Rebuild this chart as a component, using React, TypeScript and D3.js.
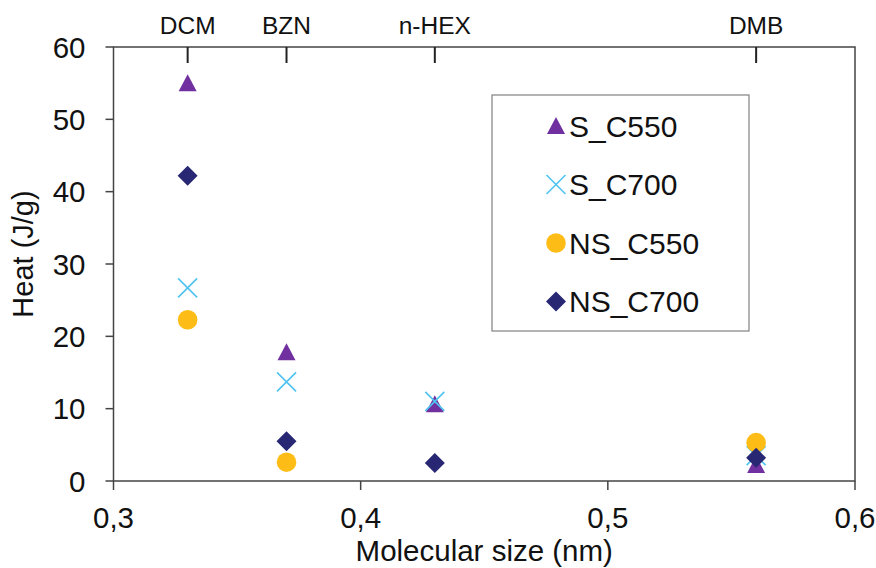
import React from 'react';
import * as d3 from 'd3';

// solvents on the top axis
const solvents = ['DCM', 'BZN', 'n-HEX', 'DMB'];
const molSize = [0.33, 0.37, 0.43, 0.56];

const seriesNames = ['S_C550', 'S_C700', 'NS_C550', 'NS_C700'];
const sC550 = [55.0, 17.8, 10.6, 2.2];
const sC700 = [26.7, 13.7, 11.0, 3.5];
const nsC550 = [22.3, 2.6, null, 5.3];
const nsC700 = [42.2, 5.5, 2.5, 3.2];

const xTicks = [0.3, 0.4, 0.5, 0.6];
const yTicks = [0, 10, 20, 30, 40, 50, 60];

const colors = ['#7030a0', '#4fc3f0', '#fdbd16', '#272774'];

const W = 876;
const H = 568;
const margin = { top: 47, right: 21, bottom: 87, left: 113.5 };
const font = 'Liberation Sans, Arial, sans-serif';

const Marker = ({ kind, x, y }) => {
  if (kind === 0) {
    return <path d={`M${x},${y - 9}L${x + 9},${y + 8}L${x - 9},${y + 8}Z`} fill={colors[0]} />;
  }
  if (kind === 1) {
    const r = 9.5;
    return (
      <path d={`M${x - r},${y - r}L${x + r},${y + r}M${x + r},${y - r}L${x - r},${y + r}`}
        stroke={colors[1]} strokeWidth={1.6} fill="none" />
    );
  }
  if (kind === 2) {
    return <circle cx={x} cy={y} r={9.8} fill={colors[2]} />;
  }
  const r = 10;
  return <path d={`M${x},${y - r}L${x + r},${y}L${x},${y + r}L${x - r},${y}Z`} fill={colors[3]} />;
};

const App = () => {
  const width = W - margin.left - margin.right;
  const height = H - margin.top - margin.bottom;

  const x = d3.scaleLinear().domain([0.3, 0.6]).range([0, width]);
  const y = d3.scaleLinear().domain([0, 60]).range([height, 0]);

  const series = [sC550, sC700, nsC550, nsC700];
  const fmt = (d) => d.toFixed(1).replace('.', ',');

  return (
    <svg width={W} height={H} style={{ position: 'absolute', left: 0, top: 0, background: '#fff' }}
      fontFamily={font}>
      <g transform={`translate(${margin.left},${margin.top})`}>
        {/* frame */}
        <rect x={0} y={0} width={width} height={height} fill="none" stroke="#444" strokeWidth={1.5} />

        {/* y axis */}
        {yTicks.map((t) => (
          <g key={'y' + t} transform={`translate(0,${y(t)})`}>
            <line x1={-8} x2={0} stroke="#444" strokeWidth={1.5} />
            <text x={-28} dy="0.36em" textAnchor="end" fontSize={29.5} fill="#111">{t}</text>
          </g>
        ))}

        {/* x axis */}
        {xTicks.map((t) => (
          <g key={'x' + t} transform={`translate(${x(t)},${height})`}>
            <line y1={0} y2={9} stroke="#444" strokeWidth={1.5} />
            <text y={47} textAnchor="middle" fontSize={29.5} fill="#111">{fmt(t)}</text>
          </g>
        ))}

        {/* top solvent axis */}
        {solvents.map((s, i) => (
          <g key={s} transform={`translate(${x(molSize[i])},0)`}>
            <line y1={0} y2={16} stroke="#222" strokeWidth={2} />
            <text y={-13} textAnchor="middle" fontSize={24.5} fill="#111">{s}</text>
          </g>
        ))}

        {/* points */}
        {series.map((vals, k) => (
          <g key={seriesNames[k]}>
            {vals.map((v, i) => (v == null ? null : (
              <Marker key={i} kind={k} x={x(molSize[i])} y={y(v)} />
            )))}
          </g>
        ))}

        {/* axis titles */}
        <text x={width / 2} y={height + 80} textAnchor="middle" fontSize={29.5} fill="#111">
          Molecular size (nm)
        </text>
        <text transform={`translate(${-margin.left + 33},${height / 2 - 10}) rotate(-90)`}
          textAnchor="middle" fontSize={29} fill="#111">
          Heat (J/g)
        </text>
      </g>

      {/* legend */}
      <g transform="translate(492,95)">
        <rect x={0} y={0} width={257} height={236} fill="#fff" stroke="#808080" strokeWidth={1.2} />
        {seriesNames.map((n, i) => (
          <g key={n} transform={`translate(0,${31 + i * 58.5})`}>
            <Marker kind={i} x={64} y={0} />
            <text x={77} dy="0.36em" fontSize={30} fill="#111">{n}</text>
          </g>
        ))}
      </g>
    </svg>
  );
};

export default App;
